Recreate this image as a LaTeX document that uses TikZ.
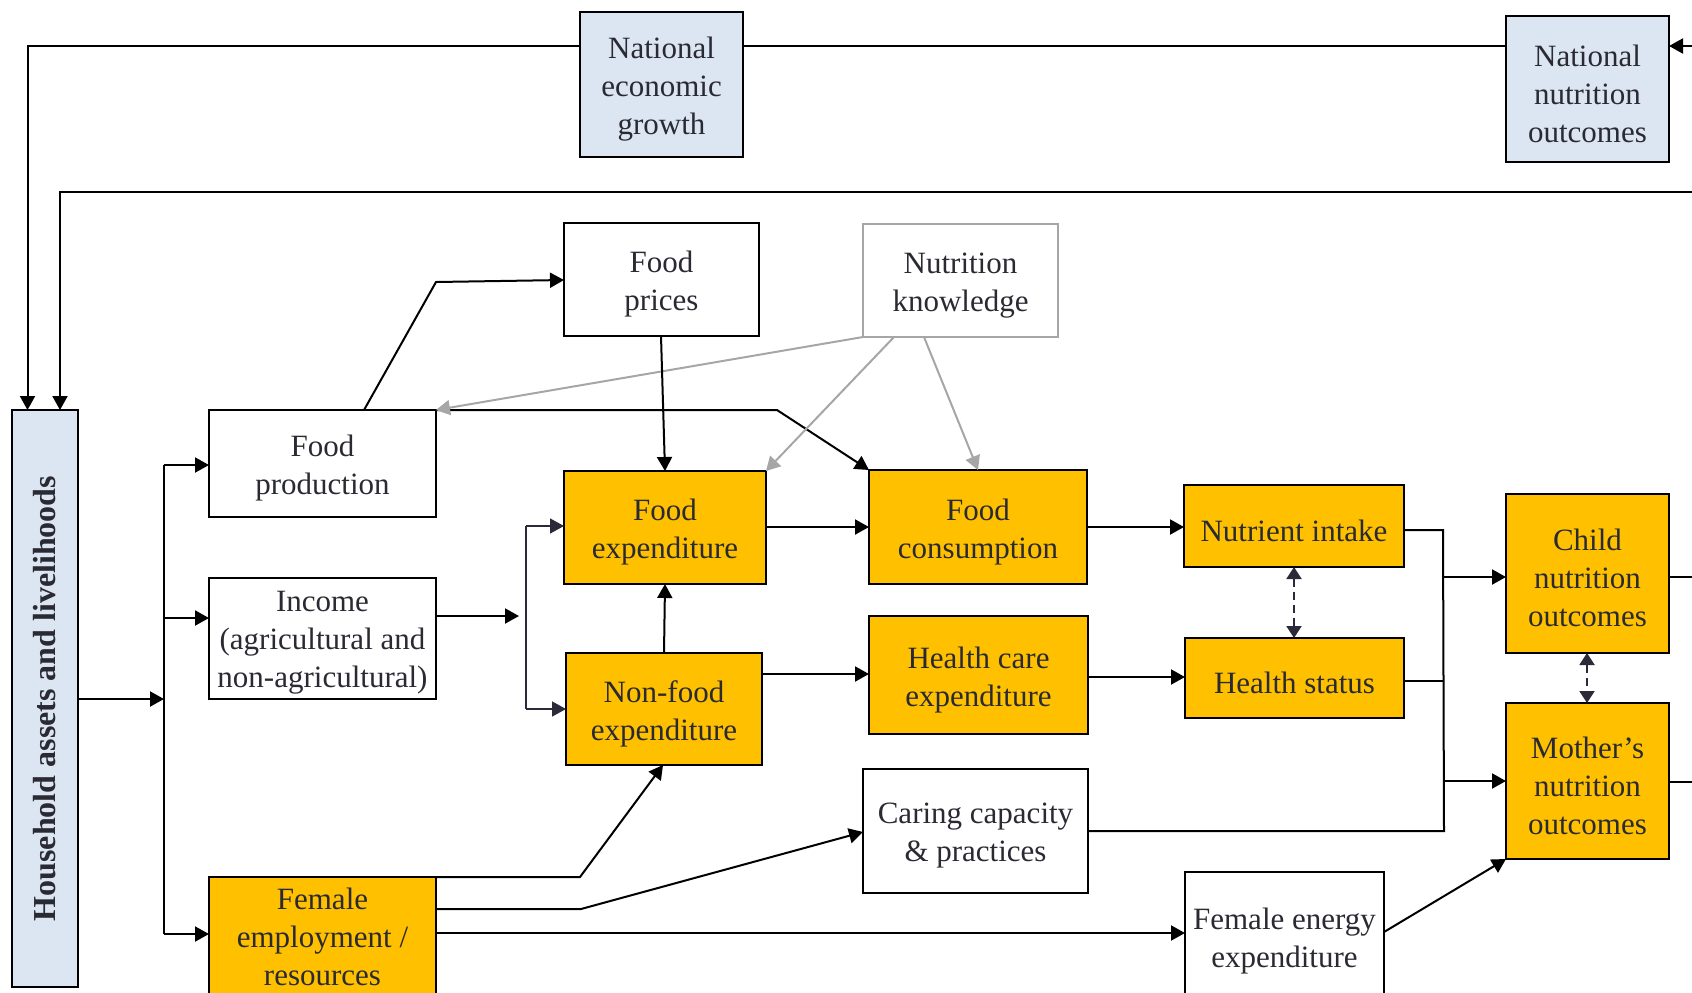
\documentclass[tikz,border=0pt]{standalone}
\usepackage{fontspec}
\setmainfont{Liberation Serif}
\usetikzlibrary{arrows.meta,calc}
\definecolor{orangeF}{HTML}{FFC000}
\definecolor{blueF}{HTML}{DCE6F2}
\definecolor{txtc}{HTML}{2A2A33}
\definecolor{grayL}{HTML}{A6A6A6}
\definecolor{darkL}{HTML}{2A2A38}
\def\bxshift{-2.3pt}
\newcommand\bx[7]{%
  \pgfmathsetmacro\bxw{(#5-#3)*0.5}\pgfmathsetmacro\bxh{(#6-#4)*0.5}%
  \pgfmathsetmacro\bxcx{(#3+#5)/2}\pgfmathsetmacro\bxcy{(#4+#6)/2}%
  \node[#1, minimum width=\bxw pt, minimum height=\bxh pt] (#2) at (\bxcx,\bxcy) {};
  \node[txt] (#2t) at ([yshift=\bxshift]#2.center) {#7};}
\begin{document}
\begin{tikzpicture}[x=0.5pt,y=-0.5pt,
  base/.style={draw=black, line width=1.2pt, inner sep=0pt, outer sep=0pt, anchor=center},
  txt/.style={inner sep=0pt, align=center, text=txtc, anchor=center, font=\fontsize{15.5}{19}\selectfont},
  wbox/.style={base, fill=white},
  obox/.style={base, fill=orangeF},
  bbox/.style={base, fill=blueF},
  gbox/.style={base, draw=grayL, fill=white},
  ln/.style={line width=1pt, draw=black},
  arr/.style={ln, -{Triangle[length=7pt,width=7.5pt]}},
  garr/.style={arr, draw=grayL, -{Triangle[length=7pt,width=7.5pt,fill=grayL]}},
  darr/.style={line width=0.8pt, draw=darkL, -{Triangle[length=7pt,width=7.5pt,fill=darkL]}},
  dbl/.style={line width=1pt, draw=darkL, dash pattern=on 4pt off 2.5pt,
     {Triangle[length=6pt,width=7.5pt,fill=darkL]}-{Triangle[length=6pt,width=7.5pt,fill=darkL]}}
]
\useasboundingbox (0,0) rectangle (1692,992);
\clip (0,0) rectangle (1692,992);

% ---------- boxes ----------
\bx{bbox}{HH}{12}{410}{78}{987}{}
\node[rotate=90, text=txtc, font=\fontsize{16}{19}\selectfont\bfseries] (HHl) at (HH.center) {Household assets and livelihoods};
\bx{bbox}{NEG}{580}{12}{743}{157}{National\\economic\\growth}
\bx{bbox}{NNO}{1506}{16}{1669}{162}{National\\nutrition\\outcomes}
\bx{wbox}{FP}{564}{223}{759}{336}{Food\\prices}
\bx{gbox}{NK}{863}{224}{1058}{337}{Nutrition\\knowledge}
\bx{wbox}{FPr}{209}{410}{436}{517}{Food\\production}
\bx{wbox}{Inc}{209}{578}{436}{699}{Income\\(agricultural and\\non-agricultural)}
\bx{obox}{FE}{564}{471}{766}{584}{Food\\expenditure}
\bx{obox}{FC}{869}{470}{1087}{584}{Food\\consumption}
\bx{obox}{NFE}{566}{653}{762}{765}{Non-food\\expenditure}
\bx{obox}{HCE}{869}{616}{1088}{734}{Health care\\expenditure}
\bx{wbox}{CC}{863}{769}{1088}{893}{Caring capacity\\\& practices}
\bx{obox}{NI}{1184}{485}{1404}{567}{Nutrient intake}
\bx{obox}{HS}{1185}{638}{1404}{718}{Health status}
\bx{wbox}{FEE}{1185}{872}{1384}{1000}{Female energy\\expenditure}
\bx{obox}{CNO}{1506}{494}{1669}{653}{Child\\nutrition\\outcomes}
\bx{obox}{MNO}{1506}{703}{1669}{859}{Mother’s\\nutrition\\outcomes}
\def\bxshift{1.2pt}
\bx{obox}{FEm}{209}{877}{436}{1001}{Female\\employment /\\resources}

% ---------- helper coordinates ----------
\coordinate (tl1) at (27.5,45.5);
\coordinate (tl2) at (60,192);
\coordinate (re1) at (1692,46);
\coordinate (re2) at (1692,192);
\coordinate (re3) at (1692,577);
\coordinate (re4) at (1692,782);
\coordinate (b1t) at (164,465);
\coordinate (b1m) at (164,699);
\coordinate (b1i) at (164,618);
\coordinate (b1b) at (164,934);
\coordinate (b2t) at (526,526);
\coordinate (b2b) at (526,709);
\coordinate (b2in) at (519,616);
\coordinate (b3t) at (1443,530);
\coordinate (b3h) at (1443.5,681);
\coordinate (b3c) at (1443.5,577);
\coordinate (b3m) at (1444,781);
\coordinate (b3b) at (1444,831);
\coordinate (k1) at (436,282);
\coordinate (k2) at (777,410);
\coordinate (k3) at (580,877);
\coordinate (k4) at (581,909);

% ---------- top feedback lines ----------
\draw[arr] (NEG.west |- tl1) -- (tl1) -- (tl1 |- HH.north);
\draw[ln] (NEG.east |- tl1) -- (NNO.west |- tl1);
\draw[arr] (re1) -- (NNO.east |- re1);
\draw[arr] (re2) -- (tl2) -- (tl2 |- HH.north);

% ---------- household bus ----------
\draw[arr] (HH.east |- b1m) -- (b1m);
\draw[ln] (b1t) -- (b1b);
\draw[arr] (b1t) -- (FPr.west |- b1t);
\draw[arr] (b1i) -- (Inc.west |- b1i);
\draw[arr] (b1b) -- (FEm.west |- b1b);

% ---------- food production ----------
\draw[arr] (364,0 |- FPr.north) -- (k1) -- (FP.west |- 0,280);
\draw[arr] (FPr.north east) -- (k2) -- (FC.north west);

% ---------- nutrition knowledge ----------
\draw[garr] (NK.south west) -- (FPr.north east);
\draw[garr] (894,0 |- NK.south) -- (FE.north east);
\draw[garr] (924,0 |- NK.south) -- (978,0 |- FC.north);

% ---------- expenditures ----------
\draw[arr] (661,0 |- FP.south) -- (665,0 |- FE.north);
\draw[arr] (FE.east |- 0,527) -- (FC.west |- 0,527);
\draw[arr] (Inc.east |- b2in) -- (b2in);
\draw[line width=0.8pt, draw=darkL] (b2t) -- (b2b);
\draw[darr] (b2t) -- (FE.west |- b2t);
\draw[darr] (b2b) -- (NFE.west |- b2b);
\draw[arr] (664,0 |- NFE.north) -- (665,0 |- FE.south);
\draw[arr] (NFE.east |- 0,674) -- (HCE.west |- 0,674);

% ---------- female employment ----------
\draw[arr] (FEm.north east) -- (k3) -- (663,0 |- NFE.south);
\draw[arr] (FEm.east |- k4) -- (k4) -- (CC.west |- 0,832);
\draw[arr] (FEm.east |- 0,933) -- (FEE.west |- 0,933);

% ---------- right side ----------
\draw[arr] (FC.east |- 0,527) -- (NI.west |- 0,527);
\draw[arr] (HCE.east |- 0,677) -- (HS.west |- 0,677);
\draw[dbl] (1294,0 |- NI.south) -- (1294,0 |- HS.north);
\draw[ln] (NI.east |- b3t) -- (b3t) -- (b3b) -- (CC.east |- b3b);
\draw[ln] (HS.east |- b3h) -- (b3h);
\draw[arr] (b3c) -- (CNO.west |- b3c);
\draw[arr] (b3m) -- (MNO.west |- b3m);
\draw[dbl] (1587,0 |- CNO.south) -- (1587,0 |- MNO.north);
\draw[arr] (FEE.east |- 0,932) -- (MNO.south west);
\draw[ln] (CNO.east |- re3) -- (re3);
\draw[ln] (MNO.east |- re4) -- (re4);
\end{tikzpicture}
\end{document}
